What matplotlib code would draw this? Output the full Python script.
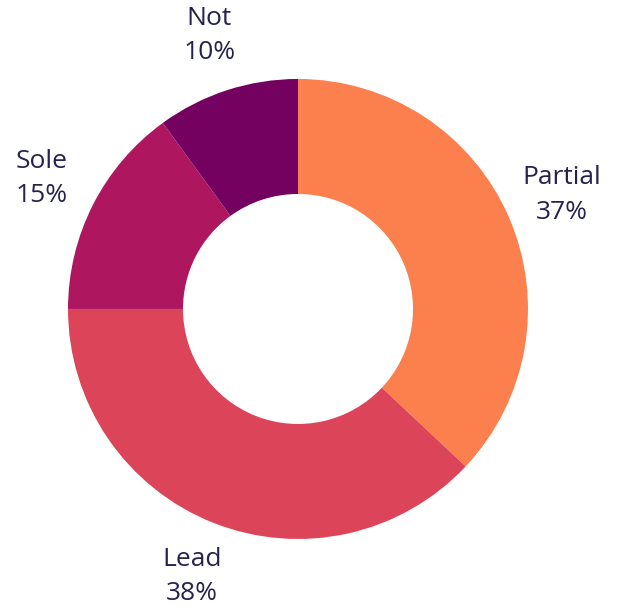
import matplotlib
matplotlib.use("Agg")
import matplotlib.pyplot as plt

categories = ["Partial", "Lead", "Sole", "Not"]
shares = [37, 38, 15, 10]
colors = ["#FC7F4E", "#DC4459", "#AE1760", "#74005F"]

labels = [f"{c}\n{v}%" for c, v in zip(categories, shares)]

fig = plt.figure(figsize=(6.22, 6.07), dpi=100)
# 1 data unit = 230 px, centre at (298, 309) px from top-left
ax = fig.add_axes([-0.0016, -0.0016, 598 / 622, 598 / 607])
wedges, texts = ax.pie(shares, labels=labels, colors=colors, startangle=90,
                       counterclock=False, labeldistance=1.25,
                       wedgeprops=dict(width=0.5, linewidth=0),
                       textprops=dict(color="#25224F", fontsize=19,
                                      family="Open Sans", ha="center",
                                      va="center", linespacing=1.5))
for t in texts:
    t.set_horizontalalignment("center")
ax.set_xlim(-1.3, 1.3)
ax.set_ylim(-1.3, 1.3)
ax.set_aspect("equal")
ax.axis("off")
fig.savefig("out.png", dpi=100)
